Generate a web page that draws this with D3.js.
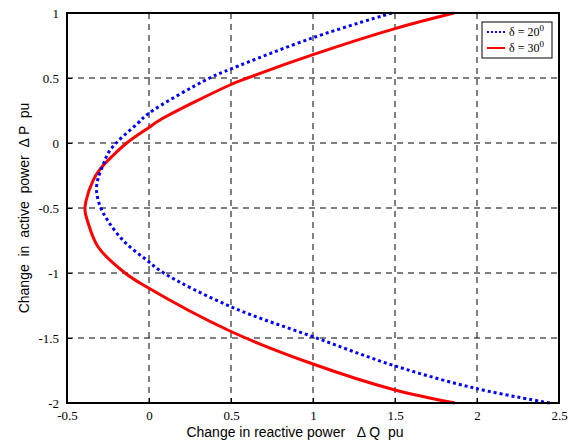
<!DOCTYPE html>
<html><head><meta charset="utf-8">
<script src="https://cdn.jsdelivr.net/npm/d3@7"></script>
<style>body{margin:0;background:#fff}svg{display:block}</style>
</head><body><svg id="c" width="575" height="445"></svg>
<script>
// Series: reactive power change (Q) vs active power change (P)
const blueQ = [1.48, 1.0, 0.5, 0.37, 0.0, -0.07, -0.20, -0.25, -0.28, -0.31, -0.32, -0.30, -0.25, -0.15, -0.02, 0.09, 0.5, 1.0, 1.5, 2.0, 2.445];
const blueP = [1.0, 0.81, 0.57, 0.5, 0.23, 0.15, 0.0, -0.08, -0.17, -0.27, -0.36, -0.48, -0.60, -0.76, -0.895, -1.0, -1.26, -1.49, -1.715, -1.89, -2.0];
const redQ = [1.86, 1.5, 1.0, 0.6, 0.5, 0.067, 0.0, -0.136, -0.227, -0.295, -0.34, -0.385, -0.39, -0.375, -0.31, -0.146, -0.024, 0.5, 1.0, 1.5, 1.866];
const redP = [1.0, 0.88, 0.68, 0.5, 0.45, 0.177, 0.12, 0.0, -0.105, -0.195, -0.285, -0.45, -0.52, -0.60, -0.80, -1.0, -1.10, -1.45, -1.70, -1.90, -2.0];
const xTicks = [-0.5, 0, 0.5, 1, 1.5, 2, 2.5];
const yTicks = [-2, -1.5, -1, -0.5, 0, 0.5, 1];
const seriesNames = ["δ = 20", "δ = 30"];

const svg = d3.select("#c");
const L = 67, R = 559, T = 13, B = 403;
const x = d3.scaleLinear().domain([-0.5, 2.5]).range([L, R]);
const y = d3.scaleLinear().domain([-2, 1]).range([B, T]);
const fmt = d => String(d);

// grid
const g = svg.append("g");
g.selectAll(".vx").data(xTicks.slice(1, -1)).enter().append("line")
  .attr("x1", d => x(d)).attr("x2", d => x(d)).attr("y1", T).attr("y2", B)
  .attr("stroke", "#000").attr("stroke-width", 1).attr("stroke-dasharray", "6,5");
g.selectAll(".hy").data(yTicks.slice(1, -1)).enter().append("line")
  .attr("y1", d => y(d)).attr("y2", d => y(d)).attr("x1", L).attr("x2", R)
  .attr("stroke", "#000").attr("stroke-width", 1).attr("stroke-dasharray", "6,5");

// axes
const xa = svg.append("g").attr("transform", `translate(0,${B})`)
  .call(d3.axisBottom(x).tickValues(xTicks).tickFormat(fmt).tickSize(-5).tickPadding(8));
const ya = svg.append("g").attr("transform", `translate(${L},0)`)
  .call(d3.axisLeft(y).tickValues(yTicks).tickFormat(fmt).tickSize(-5).tickPadding(8));
[xa, ya].forEach(a => {
  a.select(".domain").remove();
  a.selectAll("text").attr("font-family", "Liberation Serif").attr("font-size", 13).attr("fill", "#000");
  a.selectAll("line").attr("stroke", "#000");
});

// curves
const line = d3.line().x(d => x(d[0])).y(d => y(d[1])).curve(d3.curveCatmullRom);
const blue = blueQ.map((q, i) => [q, blueP[i]]);
const red = redQ.map((q, i) => [q, redP[i]]);
svg.append("clipPath").attr("id", "cp").append("rect")
  .attr("x", L).attr("y", T - 2).attr("width", R - L).attr("height", B - T + 4);
svg.append("path").datum(red).attr("d", line).attr("fill", "none")
  .attr("stroke", "#ff0000").attr("stroke-width", 3).attr("clip-path", "url(#cp)");
svg.append("path").datum(blue).attr("d", line).attr("fill", "none")
  .attr("stroke", "#0000ff").attr("stroke-width", 3).attr("stroke-dasharray", "3,3").attr("clip-path", "url(#cp)");

// frame
svg.append("rect").attr("x", L).attr("y", T).attr("width", R - L).attr("height", B - T)
  .attr("fill", "none").attr("stroke", "#000").attr("stroke-width", 2);

// legend
const lg = svg.append("g");
lg.append("rect").attr("x", 482).attr("y", 22).attr("width", 70).attr("height", 36)
  .attr("fill", "#fff").attr("stroke", "#000").attr("stroke-width", 1);
const legendItems = [
  {name: seriesNames[0], color: "#0000ff", dash: "2,2", yy: 32},
  {name: seriesNames[1], color: "#ff0000", dash: null, yy: 48}
];
legendItems.forEach(it => {
  lg.append("line").attr("x1", 487).attr("x2", 505).attr("y1", it.yy).attr("y2", it.yy)
    .attr("stroke", it.color).attr("stroke-width", 2)
    .attr("stroke-dasharray", it.dash);
  const t = lg.append("text").attr("x", 509).attr("y", it.yy + 4).attr("font-family", "Liberation Serif")
    .attr("font-size", 12);
  t.append("tspan").text(it.name);
  t.append("tspan").attr("dx", 0).attr("dy", -5).attr("font-size", 9).text("0");
});

// axis titles
svg.append("text").attr("x", 295).attr("y", 437).attr("text-anchor", "middle")
  .attr("font-family", "Liberation Sans").attr("font-size", 14)
  .style("white-space", "pre").text("Change in reactive power   \u0394 Q  pu");
svg.append("text").attr("transform", "translate(29,208) rotate(-90)").attr("text-anchor", "middle")
  .attr("font-family", "Liberation Sans").attr("font-size", 14)
  .style("white-space", "pre").text("Change  in  active  power  \u0394 P  pu");
</script></body></html>
